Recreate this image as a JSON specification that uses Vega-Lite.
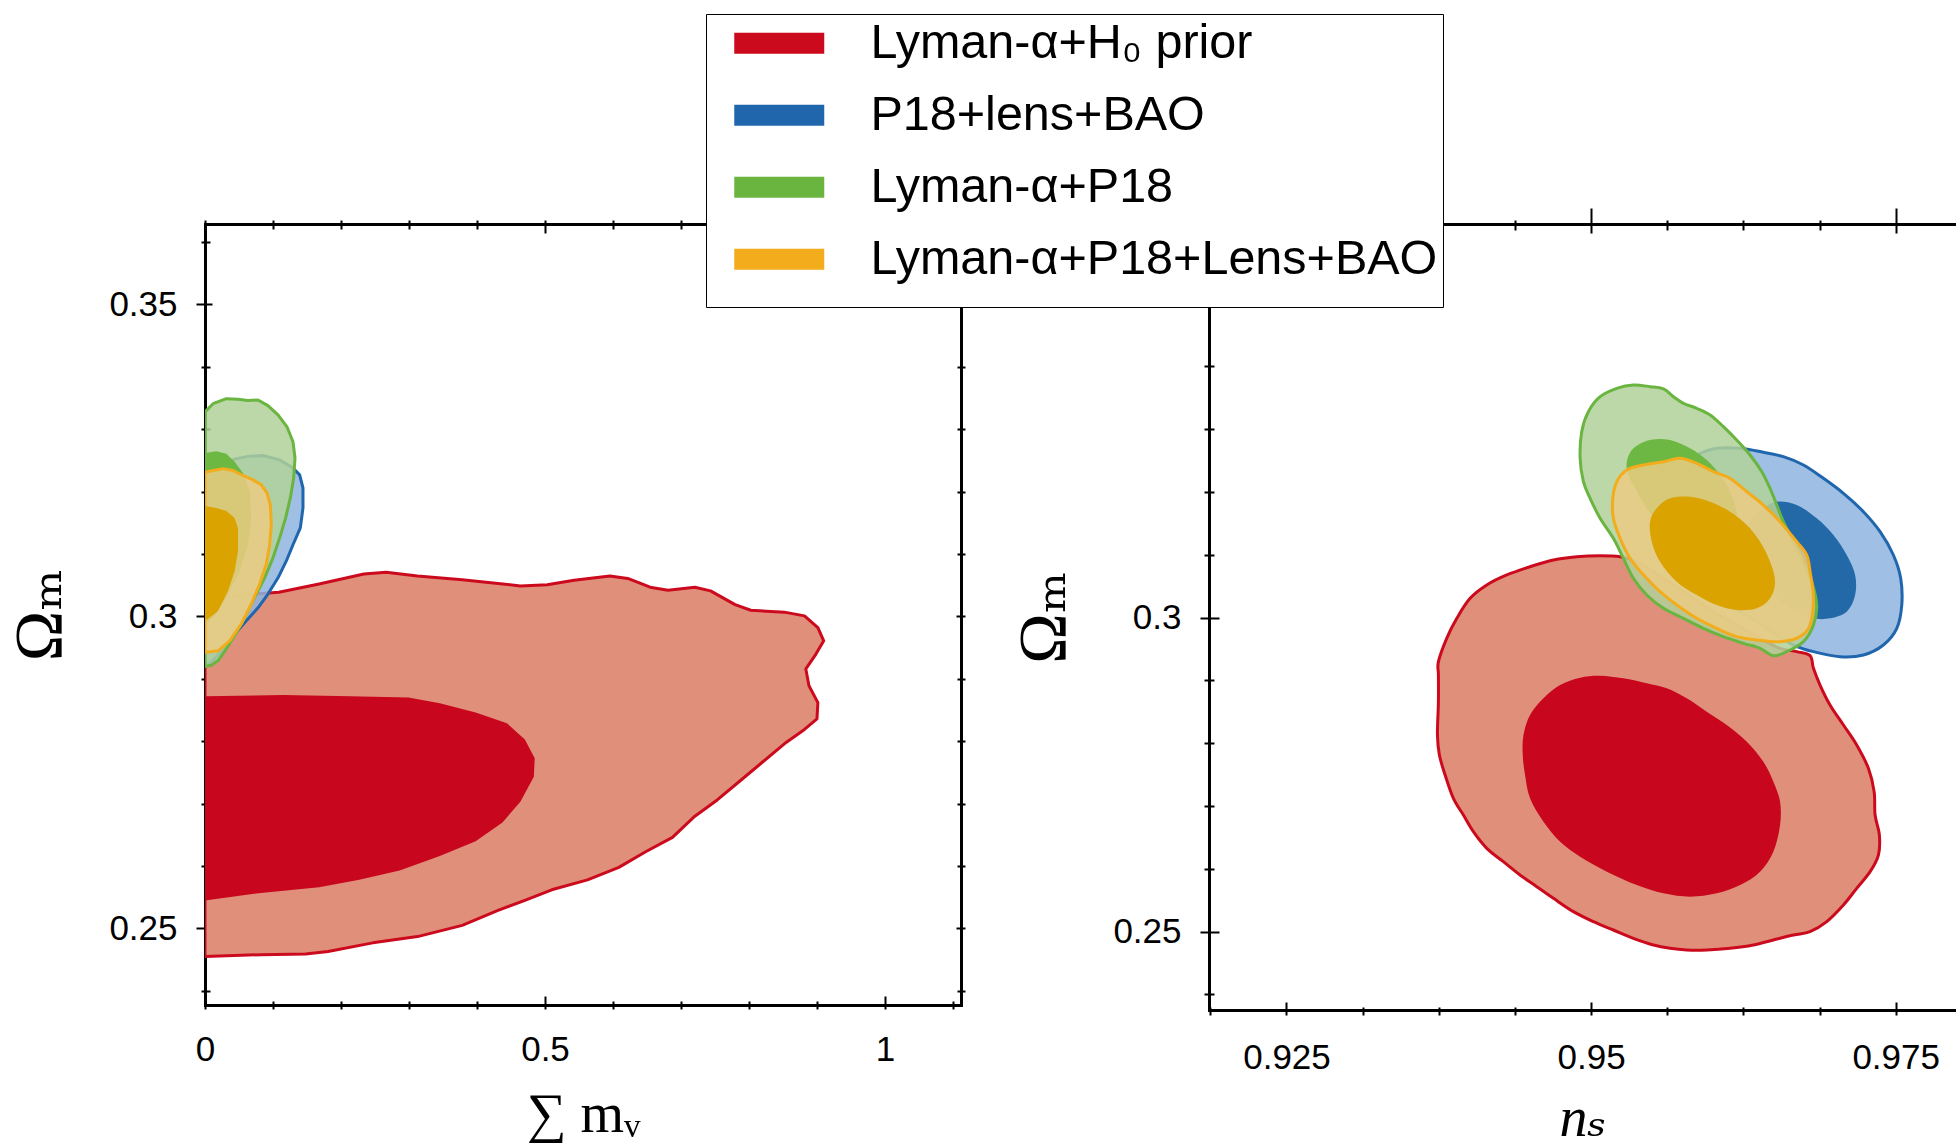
{
  "$schema": "https://vega.github.io/schema/vega-lite/v6.json",
  "background": "white",
  "autosize": {"type": "pad"},
  "padding": {"left": 6, "top": 13, "right": 0, "bottom": 0},
  "bounds": "flush",
  "spacing": 248,
  "config": {
    "view": {"stroke": null},
    "axis": {
      "grid": false, "zindex": 1,
      "domainColor": "black", "domainWidth": 3, "domainCap": "square",
      "tickColor": "black", "tickWidth": 2,
      "labelFont": "Liberation Sans, Arial, sans-serif", "labelFontSize": 35, "labelColor": "black",
      "labelFlush": false, "labelOverlap": false,
      "titleFont": "Liberation Serif, DejaVu Serif, serif", "titleFontSize": 56, "titleFontWeight": "normal", "titleColor": "black"
    },
    "legend": {"labelFont": "Liberation Sans, Arial, sans-serif", "labelColor": "black"}
  },
  "datasets": {
    "mnu": [
      {"set":"Lyman-α+H₀ prior","cl":95,"i":0,"mnu":0,"om":0.3030},
      {"set":"Lyman-α+H₀ prior","cl":95,"i":1,"mnu":0.0493,"om":0.3034},
      {"set":"Lyman-α+H₀ prior","cl":95,"i":2,"mnu":0.1086,"om":0.3039},
      {"set":"Lyman-α+H₀ prior","cl":95,"i":3,"mnu":0.1678,"om":0.3052},
      {"set":"Lyman-α+H₀ prior","cl":95,"i":4,"mnu":0.2336,"om":0.3068},
      {"set":"Lyman-α+H₀ prior","cl":95,"i":5,"mnu":0.2664,"om":0.3071},
      {"set":"Lyman-α+H₀ prior","cl":95,"i":6,"mnu":0.3125,"om":0.3065},
      {"set":"Lyman-α+H₀ prior","cl":95,"i":7,"mnu":0.3783,"om":0.3059},
      {"set":"Lyman-α+H₀ prior","cl":95,"i":8,"mnu":0.4638,"om":0.3049},
      {"set":"Lyman-α+H₀ prior","cl":95,"i":9,"mnu":0.5033,"om":0.3051},
      {"set":"Lyman-α+H₀ prior","cl":95,"i":10,"mnu":0.5428,"om":0.3058},
      {"set":"Lyman-α+H₀ prior","cl":95,"i":11,"mnu":0.5954,"om":0.3065},
      {"set":"Lyman-α+H₀ prior","cl":95,"i":12,"mnu":0.6217,"om":0.3061},
      {"set":"Lyman-α+H₀ prior","cl":95,"i":13,"mnu":0.6546,"om":0.3047},
      {"set":"Lyman-α+H₀ prior","cl":95,"i":14,"mnu":0.6809,"om":0.3042},
      {"set":"Lyman-α+H₀ prior","cl":95,"i":15,"mnu":0.7204,"om":0.3047},
      {"set":"Lyman-α+H₀ prior","cl":95,"i":16,"mnu":0.7434,"om":0.3041},
      {"set":"Lyman-α+H₀ prior","cl":95,"i":17,"mnu":0.7796,"om":0.3019},
      {"set":"Lyman-α+H₀ prior","cl":95,"i":18,"mnu":0.8026,"om":0.3010},
      {"set":"Lyman-α+H₀ prior","cl":95,"i":19,"mnu":0.8520,"om":0.3007},
      {"set":"Lyman-α+H₀ prior","cl":95,"i":20,"mnu":0.8816,"om":0.3001},
      {"set":"Lyman-α+H₀ prior","cl":95,"i":21,"mnu":0.9013,"om":0.2982},
      {"set":"Lyman-α+H₀ prior","cl":95,"i":22,"mnu":0.9099,"om":0.2961},
      {"set":"Lyman-α+H₀ prior","cl":95,"i":23,"mnu":0.8980,"om":0.2939},
      {"set":"Lyman-α+H₀ prior","cl":95,"i":24,"mnu":0.8836,"om":0.2916},
      {"set":"Lyman-α+H₀ prior","cl":95,"i":25,"mnu":0.8882,"om":0.2889},
      {"set":"Lyman-α+H₀ prior","cl":95,"i":26,"mnu":0.9013,"om":0.2862},
      {"set":"Lyman-α+H₀ prior","cl":95,"i":27,"mnu":0.9000,"om":0.2836},
      {"set":"Lyman-α+H₀ prior","cl":95,"i":28,"mnu":0.8816,"om":0.2819},
      {"set":"Lyman-α+H₀ prior","cl":95,"i":29,"mnu":0.8520,"om":0.2796},
      {"set":"Lyman-α+H₀ prior","cl":95,"i":30,"mnu":0.8191,"om":0.2766},
      {"set":"Lyman-α+H₀ prior","cl":95,"i":31,"mnu":0.7862,"om":0.2736},
      {"set":"Lyman-α+H₀ prior","cl":95,"i":32,"mnu":0.7533,"om":0.2706},
      {"set":"Lyman-α+H₀ prior","cl":95,"i":33,"mnu":0.7204,"om":0.2680},
      {"set":"Lyman-α+H₀ prior","cl":95,"i":34,"mnu":0.6875,"om":0.2646},
      {"set":"Lyman-α+H₀ prior","cl":95,"i":35,"mnu":0.6480,"om":0.2623},
      {"set":"Lyman-α+H₀ prior","cl":95,"i":36,"mnu":0.6086,"om":0.2598},
      {"set":"Lyman-α+H₀ prior","cl":95,"i":37,"mnu":0.5625,"om":0.2578},
      {"set":"Lyman-α+H₀ prior","cl":95,"i":38,"mnu":0.5099,"om":0.2562},
      {"set":"Lyman-α+H₀ prior","cl":95,"i":39,"mnu":0.4704,"om":0.2545},
      {"set":"Lyman-α+H₀ prior","cl":95,"i":40,"mnu":0.4309,"om":0.2529},
      {"set":"Lyman-α+H₀ prior","cl":95,"i":41,"mnu":0.3783,"om":0.2505},
      {"set":"Lyman-α+H₀ prior","cl":95,"i":42,"mnu":0.3125,"om":0.2487},
      {"set":"Lyman-α+H₀ prior","cl":95,"i":43,"mnu":0.2467,"om":0.2477},
      {"set":"Lyman-α+H₀ prior","cl":95,"i":44,"mnu":0.1809,"om":0.2463},
      {"set":"Lyman-α+H₀ prior","cl":95,"i":45,"mnu":0.1480,"om":0.2459},
      {"set":"Lyman-α+H₀ prior","cl":95,"i":46,"mnu":0.0822,"om":0.2458},
      {"set":"Lyman-α+H₀ prior","cl":95,"i":47,"mnu":0,"om":0.2455},

      {"set":"Lyman-α+H₀ prior","cl":68,"i":0,"mnu":0,"om":0.2872},
      {"set":"Lyman-α+H₀ prior","cl":68,"i":1,"mnu":0.1151,"om":0.2874},
      {"set":"Lyman-α+H₀ prior","cl":68,"i":2,"mnu":0.2138,"om":0.2872},
      {"set":"Lyman-α+H₀ prior","cl":68,"i":3,"mnu":0.2993,"om":0.2870},
      {"set":"Lyman-α+H₀ prior","cl":68,"i":4,"mnu":0.3454,"om":0.2861},
      {"set":"Lyman-α+H₀ prior","cl":68,"i":5,"mnu":0.3980,"om":0.2846},
      {"set":"Lyman-α+H₀ prior","cl":68,"i":6,"mnu":0.4441,"om":0.2829},
      {"set":"Lyman-α+H₀ prior","cl":68,"i":7,"mnu":0.4704,"om":0.2803},
      {"set":"Lyman-α+H₀ prior","cl":68,"i":8,"mnu":0.4849,"om":0.2773},
      {"set":"Lyman-α+H₀ prior","cl":68,"i":9,"mnu":0.4836,"om":0.2743},
      {"set":"Lyman-α+H₀ prior","cl":68,"i":10,"mnu":0.4638,"om":0.2703},
      {"set":"Lyman-α+H₀ prior","cl":68,"i":11,"mnu":0.4375,"om":0.2670},
      {"set":"Lyman-α+H₀ prior","cl":68,"i":12,"mnu":0.3980,"om":0.2640},
      {"set":"Lyman-α+H₀ prior","cl":68,"i":13,"mnu":0.3454,"om":0.2616},
      {"set":"Lyman-α+H₀ prior","cl":68,"i":14,"mnu":0.2862,"om":0.2593},
      {"set":"Lyman-α+H₀ prior","cl":68,"i":15,"mnu":0.2270,"om":0.2578},
      {"set":"Lyman-α+H₀ prior","cl":68,"i":16,"mnu":0.1678,"om":0.2566},
      {"set":"Lyman-α+H₀ prior","cl":68,"i":17,"mnu":0.0822,"om":0.2557},
      {"set":"Lyman-α+H₀ prior","cl":68,"i":18,"mnu":0,"om":0.2545},

      {"set":"P18+lens+BAO","cl":95,"i":0,"mnu":0,"om":0.3238},
      {"set":"P18+lens+BAO","cl":95,"i":1,"mnu":0.0216,"om":0.3243},
      {"set":"P18+lens+BAO","cl":95,"i":2,"mnu":0.0461,"om":0.3253},
      {"set":"P18+lens+BAO","cl":95,"i":3,"mnu":0.0657,"om":0.3257},
      {"set":"P18+lens+BAO","cl":95,"i":4,"mnu":0.0853,"om":0.3258},
      {"set":"P18+lens+BAO","cl":95,"i":5,"mnu":0.1098,"om":0.3251},
      {"set":"P18+lens+BAO","cl":95,"i":6,"mnu":0.1294,"om":0.3238},
      {"set":"P18+lens+BAO","cl":95,"i":7,"mnu":0.1392,"om":0.3227},
      {"set":"P18+lens+BAO","cl":95,"i":8,"mnu":0.1441,"om":0.3206},
      {"set":"P18+lens+BAO","cl":95,"i":9,"mnu":0.1441,"om":0.3174},
      {"set":"P18+lens+BAO","cl":95,"i":10,"mnu":0.1402,"om":0.3142},
      {"set":"P18+lens+BAO","cl":95,"i":11,"mnu":0.1294,"om":0.3115},
      {"set":"P18+lens+BAO","cl":95,"i":12,"mnu":0.1196,"om":0.3089},
      {"set":"P18+lens+BAO","cl":95,"i":13,"mnu":0.1074,"om":0.3062},
      {"set":"P18+lens+BAO","cl":95,"i":14,"mnu":0.0926,"om":0.3036},
      {"set":"P18+lens+BAO","cl":95,"i":15,"mnu":0.0779,"om":0.3014},
      {"set":"P18+lens+BAO","cl":95,"i":16,"mnu":0.0608,"om":0.2993},
      {"set":"P18+lens+BAO","cl":95,"i":17,"mnu":0.0436,"om":0.2972},
      {"set":"P18+lens+BAO","cl":95,"i":18,"mnu":0.0289,"om":0.2951},
      {"set":"P18+lens+BAO","cl":95,"i":19,"mnu":0.0167,"om":0.2935},
      {"set":"P18+lens+BAO","cl":95,"i":20,"mnu":0.0069,"om":0.2925},
      {"set":"P18+lens+BAO","cl":95,"i":21,"mnu":0,"om":0.2921},

      {"set":"Lyman-α+P18","cl":95,"i":0,"mnu":0,"om":0.3328},
      {"set":"Lyman-α+P18","cl":95,"i":1,"mnu":0.0118,"om":0.3341},
      {"set":"Lyman-α+P18","cl":95,"i":2,"mnu":0.0314,"om":0.3349},
      {"set":"Lyman-α+P18","cl":95,"i":3,"mnu":0.0485,"om":0.3348},
      {"set":"Lyman-α+P18","cl":95,"i":4,"mnu":0.0632,"om":0.3346},
      {"set":"Lyman-α+P18","cl":95,"i":5,"mnu":0.0779,"om":0.3347},
      {"set":"Lyman-α+P18","cl":95,"i":6,"mnu":0.0926,"om":0.3338},
      {"set":"Lyman-α+P18","cl":95,"i":7,"mnu":0.1074,"om":0.3323},
      {"set":"Lyman-α+P18","cl":95,"i":8,"mnu":0.1206,"om":0.3304},
      {"set":"Lyman-α+P18","cl":95,"i":9,"mnu":0.1294,"om":0.3280},
      {"set":"Lyman-α+P18","cl":95,"i":10,"mnu":0.1324,"om":0.3254},
      {"set":"Lyman-α+P18","cl":95,"i":11,"mnu":0.1304,"om":0.3222},
      {"set":"Lyman-α+P18","cl":95,"i":12,"mnu":0.1255,"om":0.3190},
      {"set":"Lyman-α+P18","cl":95,"i":13,"mnu":0.1186,"om":0.3158},
      {"set":"Lyman-α+P18","cl":95,"i":14,"mnu":0.1098,"om":0.3126},
      {"set":"Lyman-α+P18","cl":95,"i":15,"mnu":0.1000,"om":0.3094},
      {"set":"Lyman-α+P18","cl":95,"i":16,"mnu":0.0877,"om":0.3062},
      {"set":"Lyman-α+P18","cl":95,"i":17,"mnu":0.0755,"om":0.3036},
      {"set":"Lyman-α+P18","cl":95,"i":18,"mnu":0.0608,"om":0.3004},
      {"set":"Lyman-α+P18","cl":95,"i":19,"mnu":0.0461,"om":0.2974},
      {"set":"Lyman-α+P18","cl":95,"i":20,"mnu":0.0314,"om":0.2948},
      {"set":"Lyman-α+P18","cl":95,"i":21,"mnu":0.0191,"om":0.2929},
      {"set":"Lyman-α+P18","cl":95,"i":22,"mnu":0.0093,"om":0.2922},
      {"set":"Lyman-α+P18","cl":95,"i":23,"mnu":0,"om":0.2920},

      {"set":"Lyman-α+P18","cl":68,"i":0,"mnu":0,"om":0.3262},
      {"set":"Lyman-α+P18","cl":68,"i":1,"mnu":0.0167,"om":0.3265},
      {"set":"Lyman-α+P18","cl":68,"i":2,"mnu":0.0314,"om":0.3261},
      {"set":"Lyman-α+P18","cl":68,"i":3,"mnu":0.0436,"om":0.3248},
      {"set":"Lyman-α+P18","cl":68,"i":4,"mnu":0.0559,"om":0.3230},
      {"set":"Lyman-α+P18","cl":68,"i":5,"mnu":0.0657,"om":0.3201},
      {"set":"Lyman-α+P18","cl":68,"i":6,"mnu":0.0681,"om":0.3158},
      {"set":"Lyman-α+P18","cl":68,"i":7,"mnu":0.0632,"om":0.3115},
      {"set":"Lyman-α+P18","cl":68,"i":8,"mnu":0.0510,"om":0.3073},
      {"set":"Lyman-α+P18","cl":68,"i":9,"mnu":0.0314,"om":0.3030},
      {"set":"Lyman-α+P18","cl":68,"i":10,"mnu":0.0118,"om":0.2998},
      {"set":"Lyman-α+P18","cl":68,"i":11,"mnu":0,"om":0.2988},

      {"set":"Lyman-α+P18+Lens+BAO","cl":95,"i":0,"mnu":0,"om":0.3231},
      {"set":"Lyman-α+P18+Lens+BAO","cl":95,"i":1,"mnu":0.0118,"om":0.3234},
      {"set":"Lyman-α+P18+Lens+BAO","cl":95,"i":2,"mnu":0.0265,"om":0.3237},
      {"set":"Lyman-α+P18+Lens+BAO","cl":95,"i":3,"mnu":0.0412,"om":0.3234},
      {"set":"Lyman-α+P18+Lens+BAO","cl":95,"i":4,"mnu":0.0559,"om":0.3226},
      {"set":"Lyman-α+P18+Lens+BAO","cl":95,"i":5,"mnu":0.0706,"om":0.3219},
      {"set":"Lyman-α+P18+Lens+BAO","cl":95,"i":6,"mnu":0.0828,"om":0.3211},
      {"set":"Lyman-α+P18+Lens+BAO","cl":95,"i":7,"mnu":0.0912,"om":0.3198},
      {"set":"Lyman-α+P18+Lens+BAO","cl":95,"i":8,"mnu":0.0961,"om":0.3179},
      {"set":"Lyman-α+P18+Lens+BAO","cl":95,"i":9,"mnu":0.0975,"om":0.3147},
      {"set":"Lyman-α+P18+Lens+BAO","cl":95,"i":10,"mnu":0.0951,"om":0.3115},
      {"set":"Lyman-α+P18+Lens+BAO","cl":95,"i":11,"mnu":0.0902,"om":0.3084},
      {"set":"Lyman-α+P18+Lens+BAO","cl":95,"i":12,"mnu":0.0804,"om":0.3052},
      {"set":"Lyman-α+P18+Lens+BAO","cl":95,"i":13,"mnu":0.0681,"om":0.3020},
      {"set":"Lyman-α+P18+Lens+BAO","cl":95,"i":14,"mnu":0.0534,"om":0.2988},
      {"set":"Lyman-α+P18+Lens+BAO","cl":95,"i":15,"mnu":0.0363,"om":0.2961},
      {"set":"Lyman-α+P18+Lens+BAO","cl":95,"i":16,"mnu":0.0191,"om":0.2945},
      {"set":"Lyman-α+P18+Lens+BAO","cl":95,"i":17,"mnu":0.0044,"om":0.2943},
      {"set":"Lyman-α+P18+Lens+BAO","cl":95,"i":18,"mnu":0,"om":0.2942},

      {"set":"Lyman-α+P18+Lens+BAO","cl":68,"i":0,"mnu":0,"om":0.3177},
      {"set":"Lyman-α+P18+Lens+BAO","cl":68,"i":1,"mnu":0.0167,"om":0.3174},
      {"set":"Lyman-α+P18+Lens+BAO","cl":68,"i":2,"mnu":0.0314,"om":0.3169},
      {"set":"Lyman-α+P18+Lens+BAO","cl":68,"i":3,"mnu":0.0436,"om":0.3158},
      {"set":"Lyman-α+P18+Lens+BAO","cl":68,"i":4,"mnu":0.0485,"om":0.3142},
      {"set":"Lyman-α+P18+Lens+BAO","cl":68,"i":5,"mnu":0.0485,"om":0.3105},
      {"set":"Lyman-α+P18+Lens+BAO","cl":68,"i":6,"mnu":0.0436,"om":0.3073},
      {"set":"Lyman-α+P18+Lens+BAO","cl":68,"i":7,"mnu":0.0338,"om":0.3041},
      {"set":"Lyman-α+P18+Lens+BAO","cl":68,"i":8,"mnu":0.0191,"om":0.3009},
      {"set":"Lyman-α+P18+Lens+BAO","cl":68,"i":9,"mnu":0.0044,"om":0.2996},
      {"set":"Lyman-α+P18+Lens+BAO","cl":68,"i":10,"mnu":0,"om":0.2994}
    ],
    "ns": [
      {"set":"Lyman-α+H₀ prior","cl":95,"i":0,"ns":0.93747,"om":0.29297},
      {"set":"Lyman-α+H₀ prior","cl":95,"i":1,"ns":0.93815,"om":0.29668},
      {"set":"Lyman-α+H₀ prior","cl":95,"i":2,"ns":0.93898,"om":0.29987},
      {"set":"Lyman-α+H₀ prior","cl":95,"i":3,"ns":0.94007,"om":0.30305},
      {"set":"Lyman-α+H₀ prior","cl":95,"i":4,"ns":0.94144,"om":0.30518},
      {"set":"Lyman-α+H₀ prior","cl":95,"i":5,"ns":0.94308,"om":0.30677},
      {"set":"Lyman-α+H₀ prior","cl":95,"i":6,"ns":0.94499,"om":0.30809},
      {"set":"Lyman-α+H₀ prior","cl":95,"i":7,"ns":0.94691,"om":0.30916},
      {"set":"Lyman-α+H₀ prior","cl":95,"i":8,"ns":0.94882,"om":0.30969},
      {"set":"Lyman-α+H₀ prior","cl":95,"i":9,"ns":0.95074,"om":0.30985},
      {"set":"Lyman-α+H₀ prior","cl":95,"i":10,"ns":0.95238,"om":0.30969},
      {"set":"Lyman-α+H₀ prior","cl":95,"i":11,"ns":0.95375,"om":0.30889},
      {"set":"Lyman-α+H₀ prior","cl":95,"i":12,"ns":0.95512,"om":0.30730},
      {"set":"Lyman-α+H₀ prior","cl":95,"i":13,"ns":0.95676,"om":0.30518},
      {"set":"Lyman-α+H₀ prior","cl":95,"i":14,"ns":0.95840,"om":0.30305},
      {"set":"Lyman-α+H₀ prior","cl":95,"i":15,"ns":0.96004,"om":0.30093},
      {"set":"Lyman-α+H₀ prior","cl":95,"i":16,"ns":0.96195,"om":0.29881},
      {"set":"Lyman-α+H₀ prior","cl":95,"i":17,"ns":0.96387,"om":0.29668},
      {"set":"Lyman-α+H₀ prior","cl":95,"i":18,"ns":0.96551,"om":0.29509},
      {"set":"Lyman-α+H₀ prior","cl":95,"i":19,"ns":0.96688,"om":0.29456},
      {"set":"Lyman-α+H₀ prior","cl":95,"i":20,"ns":0.96797,"om":0.29392},
      {"set":"Lyman-α+H₀ prior","cl":95,"i":21,"ns":0.96825,"om":0.29191},
      {"set":"Lyman-α+H₀ prior","cl":95,"i":22,"ns":0.96879,"om":0.28925},
      {"set":"Lyman-α+H₀ prior","cl":95,"i":23,"ns":0.96961,"om":0.28607},
      {"set":"Lyman-α+H₀ prior","cl":95,"i":24,"ns":0.97071,"om":0.28288},
      {"set":"Lyman-α+H₀ prior","cl":95,"i":25,"ns":0.97180,"om":0.27970},
      {"set":"Lyman-α+H₀ prior","cl":95,"i":26,"ns":0.97276,"om":0.27598},
      {"set":"Lyman-α+H₀ prior","cl":95,"i":27,"ns":0.97323,"om":0.27227},
      {"set":"Lyman-α+H₀ prior","cl":95,"i":28,"ns":0.97331,"om":0.26855},
      {"set":"Lyman-α+H₀ prior","cl":95,"i":29,"ns":0.97366,"om":0.26537},
      {"set":"Lyman-α+H₀ prior","cl":95,"i":30,"ns":0.97358,"om":0.26218},
      {"set":"Lyman-α+H₀ prior","cl":95,"i":31,"ns":0.97290,"om":0.25953},
      {"set":"Lyman-α+H₀ prior","cl":95,"i":32,"ns":0.97180,"om":0.25687},
      {"set":"Lyman-α+H₀ prior","cl":95,"i":33,"ns":0.97071,"om":0.25422},
      {"set":"Lyman-α+H₀ prior","cl":95,"i":34,"ns":0.96934,"om":0.25157},
      {"set":"Lyman-α+H₀ prior","cl":95,"i":35,"ns":0.96797,"om":0.24997},
      {"set":"Lyman-α+H₀ prior","cl":95,"i":36,"ns":0.96661,"om":0.24944},
      {"set":"Lyman-α+H₀ prior","cl":95,"i":37,"ns":0.96496,"om":0.24865},
      {"set":"Lyman-α+H₀ prior","cl":95,"i":38,"ns":0.96332,"om":0.24785},
      {"set":"Lyman-α+H₀ prior","cl":95,"i":39,"ns":0.96141,"om":0.24732},
      {"set":"Lyman-α+H₀ prior","cl":95,"i":40,"ns":0.95949,"om":0.24705},
      {"set":"Lyman-α+H₀ prior","cl":95,"i":41,"ns":0.95785,"om":0.24705},
      {"set":"Lyman-α+H₀ prior","cl":95,"i":42,"ns":0.95648,"om":0.24732},
      {"set":"Lyman-α+H₀ prior","cl":95,"i":43,"ns":0.95512,"om":0.24785},
      {"set":"Lyman-α+H₀ prior","cl":95,"i":44,"ns":0.95347,"om":0.24891},
      {"set":"Lyman-α+H₀ prior","cl":95,"i":45,"ns":0.95183,"om":0.25024},
      {"set":"Lyman-α+H₀ prior","cl":95,"i":46,"ns":0.95019,"om":0.25157},
      {"set":"Lyman-α+H₀ prior","cl":95,"i":47,"ns":0.94855,"om":0.25316},
      {"set":"Lyman-α+H₀ prior","cl":95,"i":48,"ns":0.94691,"om":0.25528},
      {"set":"Lyman-α+H₀ prior","cl":95,"i":49,"ns":0.94554,"om":0.25714},
      {"set":"Lyman-α+H₀ prior","cl":95,"i":50,"ns":0.94417,"om":0.25900},
      {"set":"Lyman-α+H₀ prior","cl":95,"i":51,"ns":0.94280,"om":0.26112},
      {"set":"Lyman-α+H₀ prior","cl":95,"i":52,"ns":0.94144,"om":0.26324},
      {"set":"Lyman-α+H₀ prior","cl":95,"i":53,"ns":0.94034,"om":0.26590},
      {"set":"Lyman-α+H₀ prior","cl":95,"i":54,"ns":0.93952,"om":0.26855},
      {"set":"Lyman-α+H₀ prior","cl":95,"i":55,"ns":0.93870,"om":0.27121},
      {"set":"Lyman-α+H₀ prior","cl":95,"i":56,"ns":0.93802,"om":0.27492},
      {"set":"Lyman-α+H₀ prior","cl":95,"i":57,"ns":0.93755,"om":0.27810},
      {"set":"Lyman-α+H₀ prior","cl":95,"i":58,"ns":0.93739,"om":0.28129},
      {"set":"Lyman-α+H₀ prior","cl":95,"i":59,"ns":0.93747,"om":0.28660},
      {"set":"Lyman-α+H₀ prior","cl":95,"i":60,"ns":0.93747,"om":0.29084},

      {"set":"Lyman-α+H₀ prior","cl":68,"i":0,"ns":0.94445,"om":0.28129},
      {"set":"Lyman-α+H₀ prior","cl":68,"i":1,"ns":0.94499,"om":0.28447},
      {"set":"Lyman-α+H₀ prior","cl":68,"i":2,"ns":0.94609,"om":0.28713},
      {"set":"Lyman-α+H₀ prior","cl":68,"i":3,"ns":0.94746,"om":0.28925},
      {"set":"Lyman-α+H₀ prior","cl":68,"i":4,"ns":0.94910,"om":0.29042},
      {"set":"Lyman-α+H₀ prior","cl":68,"i":5,"ns":0.95074,"om":0.29074},
      {"set":"Lyman-α+H₀ prior","cl":68,"i":6,"ns":0.95265,"om":0.29031},
      {"set":"Lyman-α+H₀ prior","cl":68,"i":7,"ns":0.95457,"om":0.28952},
      {"set":"Lyman-α+H₀ prior","cl":68,"i":8,"ns":0.95621,"om":0.28872},
      {"set":"Lyman-α+H₀ prior","cl":68,"i":9,"ns":0.95785,"om":0.28713},
      {"set":"Lyman-α+H₀ prior","cl":68,"i":10,"ns":0.95949,"om":0.28501},
      {"set":"Lyman-α+H₀ prior","cl":68,"i":11,"ns":0.96113,"om":0.28288},
      {"set":"Lyman-α+H₀ prior","cl":68,"i":12,"ns":0.96278,"om":0.28023},
      {"set":"Lyman-α+H₀ prior","cl":68,"i":13,"ns":0.96414,"om":0.27704},
      {"set":"Lyman-α+H₀ prior","cl":68,"i":14,"ns":0.96496,"om":0.27386},
      {"set":"Lyman-α+H₀ prior","cl":68,"i":15,"ns":0.96551,"om":0.27067},
      {"set":"Lyman-α+H₀ prior","cl":68,"i":16,"ns":0.96551,"om":0.26696},
      {"set":"Lyman-α+H₀ prior","cl":68,"i":17,"ns":0.96496,"om":0.26271},
      {"set":"Lyman-α+H₀ prior","cl":68,"i":18,"ns":0.96387,"om":0.25953},
      {"set":"Lyman-α+H₀ prior","cl":68,"i":19,"ns":0.96223,"om":0.25740},
      {"set":"Lyman-α+H₀ prior","cl":68,"i":20,"ns":0.96031,"om":0.25608},
      {"set":"Lyman-α+H₀ prior","cl":68,"i":21,"ns":0.95812,"om":0.25555},
      {"set":"Lyman-α+H₀ prior","cl":68,"i":22,"ns":0.95594,"om":0.25608},
      {"set":"Lyman-α+H₀ prior","cl":68,"i":23,"ns":0.95375,"om":0.25740},
      {"set":"Lyman-α+H₀ prior","cl":68,"i":24,"ns":0.95129,"om":0.25953},
      {"set":"Lyman-α+H₀ prior","cl":68,"i":25,"ns":0.94910,"om":0.26192},
      {"set":"Lyman-α+H₀ prior","cl":68,"i":26,"ns":0.94746,"om":0.26430},
      {"set":"Lyman-α+H₀ prior","cl":68,"i":27,"ns":0.94609,"om":0.26749},
      {"set":"Lyman-α+H₀ prior","cl":68,"i":28,"ns":0.94499,"om":0.27121},
      {"set":"Lyman-α+H₀ prior","cl":68,"i":29,"ns":0.94458,"om":0.27492},
      {"set":"Lyman-α+H₀ prior","cl":68,"i":30,"ns":0.94439,"om":0.27810},

      {"set":"P18+lens+BAO","cl":95,"i":0,"ns":0.95703,"om":0.32269},
      {"set":"P18+lens+BAO","cl":95,"i":1,"ns":0.95758,"om":0.32428},
      {"set":"P18+lens+BAO","cl":95,"i":2,"ns":0.95867,"om":0.32588},
      {"set":"P18+lens+BAO","cl":95,"i":3,"ns":0.96031,"om":0.32694},
      {"set":"P18+lens+BAO","cl":95,"i":4,"ns":0.96223,"om":0.32694},
      {"set":"P18+lens+BAO","cl":95,"i":5,"ns":0.96414,"om":0.32630},
      {"set":"P18+lens+BAO","cl":95,"i":6,"ns":0.96578,"om":0.32561},
      {"set":"P18+lens+BAO","cl":95,"i":7,"ns":0.96743,"om":0.32428},
      {"set":"P18+lens+BAO","cl":95,"i":8,"ns":0.96907,"om":0.32216},
      {"set":"P18+lens+BAO","cl":95,"i":9,"ns":0.97071,"om":0.31977},
      {"set":"P18+lens+BAO","cl":95,"i":10,"ns":0.97235,"om":0.31685},
      {"set":"P18+lens+BAO","cl":95,"i":11,"ns":0.97372,"om":0.31367},
      {"set":"P18+lens+BAO","cl":95,"i":12,"ns":0.97481,"om":0.30995},
      {"set":"P18+lens+BAO","cl":95,"i":13,"ns":0.97541,"om":0.30624},
      {"set":"P18+lens+BAO","cl":95,"i":14,"ns":0.97550,"om":0.30199},
      {"set":"P18+lens+BAO","cl":95,"i":15,"ns":0.97509,"om":0.29827},
      {"set":"P18+lens+BAO","cl":95,"i":16,"ns":0.97399,"om":0.29562},
      {"set":"P18+lens+BAO","cl":95,"i":17,"ns":0.97235,"om":0.29403},
      {"set":"P18+lens+BAO","cl":95,"i":18,"ns":0.97044,"om":0.29376},
      {"set":"P18+lens+BAO","cl":95,"i":19,"ns":0.96825,"om":0.29456},
      {"set":"P18+lens+BAO","cl":95,"i":20,"ns":0.96661,"om":0.29562},
      {"set":"P18+lens+BAO","cl":95,"i":21,"ns":0.96524,"om":0.29721},
      {"set":"P18+lens+BAO","cl":95,"i":22,"ns":0.96360,"om":0.29934},
      {"set":"P18+lens+BAO","cl":95,"i":23,"ns":0.96141,"om":0.30199},
      {"set":"P18+lens+BAO","cl":95,"i":24,"ns":0.95949,"om":0.30571},
      {"set":"P18+lens+BAO","cl":95,"i":25,"ns":0.95812,"om":0.31048},
      {"set":"P18+lens+BAO","cl":95,"i":26,"ns":0.95703,"om":0.31526},
      {"set":"P18+lens+BAO","cl":95,"i":27,"ns":0.95676,"om":0.32004},

      {"set":"P18+lens+BAO","cl":68,"i":0,"ns":0.96414,"om":0.31738},
      {"set":"P18+lens+BAO","cl":68,"i":1,"ns":0.96524,"om":0.31844},
      {"set":"P18+lens+BAO","cl":68,"i":2,"ns":0.96688,"om":0.31791},
      {"set":"P18+lens+BAO","cl":68,"i":3,"ns":0.96852,"om":0.31579},
      {"set":"P18+lens+BAO","cl":68,"i":4,"ns":0.96989,"om":0.31314},
      {"set":"P18+lens+BAO","cl":68,"i":5,"ns":0.97098,"om":0.30995},
      {"set":"P18+lens+BAO","cl":68,"i":6,"ns":0.97167,"om":0.30677},
      {"set":"P18+lens+BAO","cl":68,"i":7,"ns":0.97167,"om":0.30358},
      {"set":"P18+lens+BAO","cl":68,"i":8,"ns":0.97098,"om":0.30093},
      {"set":"P18+lens+BAO","cl":68,"i":9,"ns":0.96961,"om":0.29987},
      {"set":"P18+lens+BAO","cl":68,"i":10,"ns":0.96825,"om":0.29987},
      {"set":"P18+lens+BAO","cl":68,"i":11,"ns":0.96688,"om":0.30093},
      {"set":"P18+lens+BAO","cl":68,"i":12,"ns":0.96496,"om":0.30358},
      {"set":"P18+lens+BAO","cl":68,"i":13,"ns":0.96360,"om":0.30730},
      {"set":"P18+lens+BAO","cl":68,"i":14,"ns":0.96278,"om":0.31154},
      {"set":"P18+lens+BAO","cl":68,"i":15,"ns":0.96305,"om":0.31526},

      {"set":"Lyman-α+P18","cl":95,"i":0,"ns":0.94910,"om":0.32535},
      {"set":"Lyman-α+P18","cl":95,"i":1,"ns":0.94923,"om":0.32959},
      {"set":"Lyman-α+P18","cl":95,"i":2,"ns":0.94978,"om":0.33278},
      {"set":"Lyman-α+P18","cl":95,"i":3,"ns":0.95074,"om":0.33516},
      {"set":"Lyman-α+P18","cl":95,"i":4,"ns":0.95211,"om":0.33649},
      {"set":"Lyman-α+P18","cl":95,"i":5,"ns":0.95347,"om":0.33702},
      {"set":"Lyman-α+P18","cl":95,"i":6,"ns":0.95484,"om":0.33676},
      {"set":"Lyman-α+P18","cl":95,"i":7,"ns":0.95594,"om":0.33639},
      {"set":"Lyman-α+P18","cl":95,"i":8,"ns":0.95676,"om":0.33516},
      {"set":"Lyman-α+P18","cl":95,"i":9,"ns":0.95758,"om":0.33410},
      {"set":"Lyman-α+P18","cl":95,"i":10,"ns":0.95867,"om":0.33331},
      {"set":"Lyman-α+P18","cl":95,"i":11,"ns":0.95977,"om":0.33225},
      {"set":"Lyman-α+P18","cl":95,"i":12,"ns":0.96086,"om":0.33039},
      {"set":"Lyman-α+P18","cl":95,"i":13,"ns":0.96195,"om":0.32826},
      {"set":"Lyman-α+P18","cl":95,"i":14,"ns":0.96305,"om":0.32588},
      {"set":"Lyman-α+P18","cl":95,"i":15,"ns":0.96401,"om":0.32322},
      {"set":"Lyman-α+P18","cl":95,"i":16,"ns":0.96469,"om":0.32057},
      {"set":"Lyman-α+P18","cl":95,"i":17,"ns":0.96524,"om":0.31791},
      {"set":"Lyman-α+P18","cl":95,"i":18,"ns":0.96578,"om":0.31526},
      {"set":"Lyman-α+P18","cl":95,"i":19,"ns":0.96661,"om":0.31208},
      {"set":"Lyman-α+P18","cl":95,"i":20,"ns":0.96743,"om":0.30889},
      {"set":"Lyman-α+P18","cl":95,"i":21,"ns":0.96811,"om":0.30571},
      {"set":"Lyman-α+P18","cl":95,"i":22,"ns":0.96852,"om":0.30199},
      {"set":"Lyman-α+P18","cl":95,"i":23,"ns":0.96825,"om":0.29881},
      {"set":"Lyman-α+P18","cl":95,"i":24,"ns":0.96743,"om":0.29615},
      {"set":"Lyman-α+P18","cl":95,"i":25,"ns":0.96606,"om":0.29456},
      {"set":"Lyman-α+P18","cl":95,"i":26,"ns":0.96496,"om":0.29392},
      {"set":"Lyman-α+P18","cl":95,"i":27,"ns":0.96387,"om":0.29509},
      {"set":"Lyman-α+P18","cl":95,"i":28,"ns":0.96250,"om":0.29589},
      {"set":"Lyman-α+P18","cl":95,"i":29,"ns":0.96086,"om":0.29695},
      {"set":"Lyman-α+P18","cl":95,"i":30,"ns":0.95922,"om":0.29827},
      {"set":"Lyman-α+P18","cl":95,"i":31,"ns":0.95758,"om":0.29987},
      {"set":"Lyman-α+P18","cl":95,"i":32,"ns":0.95594,"om":0.30146},
      {"set":"Lyman-α+P18","cl":95,"i":33,"ns":0.95457,"om":0.30358},
      {"set":"Lyman-α+P18","cl":95,"i":34,"ns":0.95347,"om":0.30624},
      {"set":"Lyman-α+P18","cl":95,"i":35,"ns":0.95265,"om":0.30942},
      {"set":"Lyman-α+P18","cl":95,"i":36,"ns":0.95183,"om":0.31261},
      {"set":"Lyman-α+P18","cl":95,"i":37,"ns":0.95074,"om":0.31579},
      {"set":"Lyman-α+P18","cl":95,"i":38,"ns":0.94992,"om":0.31898},
      {"set":"Lyman-α+P18","cl":95,"i":39,"ns":0.94937,"om":0.32163},

      {"set":"Lyman-α+P18","cl":68,"i":0,"ns":0.95293,"om":0.32481},
      {"set":"Lyman-α+P18","cl":68,"i":1,"ns":0.95347,"om":0.32694},
      {"set":"Lyman-α+P18","cl":68,"i":2,"ns":0.95484,"om":0.32826},
      {"set":"Lyman-α+P18","cl":68,"i":3,"ns":0.95648,"om":0.32826},
      {"set":"Lyman-α+P18","cl":68,"i":4,"ns":0.95812,"om":0.32694},
      {"set":"Lyman-α+P18","cl":68,"i":5,"ns":0.95949,"om":0.32508},
      {"set":"Lyman-α+P18","cl":68,"i":6,"ns":0.96059,"om":0.32269},
      {"set":"Lyman-α+P18","cl":68,"i":7,"ns":0.96141,"om":0.32004},
      {"set":"Lyman-α+P18","cl":68,"i":8,"ns":0.96195,"om":0.31685},
      {"set":"Lyman-α+P18","cl":68,"i":9,"ns":0.96195,"om":0.31367},
      {"set":"Lyman-α+P18","cl":68,"i":10,"ns":0.96141,"om":0.31154},
      {"set":"Lyman-α+P18","cl":68,"i":11,"ns":0.96031,"om":0.31048},
      {"set":"Lyman-α+P18","cl":68,"i":12,"ns":0.95867,"om":0.31048},
      {"set":"Lyman-α+P18","cl":68,"i":13,"ns":0.95703,"om":0.31208},
      {"set":"Lyman-α+P18","cl":68,"i":14,"ns":0.95566,"om":0.31473},
      {"set":"Lyman-α+P18","cl":68,"i":15,"ns":0.95457,"om":0.31738},
      {"set":"Lyman-α+P18","cl":68,"i":16,"ns":0.95361,"om":0.32057},
      {"set":"Lyman-α+P18","cl":68,"i":17,"ns":0.95306,"om":0.32269},

      {"set":"Lyman-α+P18+Lens+BAO","cl":95,"i":0,"ns":0.95178,"om":0.31898},
      {"set":"Lyman-α+P18+Lens+BAO","cl":95,"i":1,"ns":0.95211,"om":0.32163},
      {"set":"Lyman-α+P18+Lens+BAO","cl":95,"i":2,"ns":0.95293,"om":0.32349},
      {"set":"Lyman-α+P18+Lens+BAO","cl":95,"i":3,"ns":0.95430,"om":0.32428},
      {"set":"Lyman-α+P18+Lens+BAO","cl":95,"i":4,"ns":0.95594,"om":0.32481},
      {"set":"Lyman-α+P18+Lens+BAO","cl":95,"i":5,"ns":0.95730,"om":0.32535},
      {"set":"Lyman-α+P18+Lens+BAO","cl":95,"i":6,"ns":0.95867,"om":0.32455},
      {"set":"Lyman-α+P18+Lens+BAO","cl":95,"i":7,"ns":0.96004,"om":0.32322},
      {"set":"Lyman-α+P18+Lens+BAO","cl":95,"i":8,"ns":0.96141,"om":0.32216},
      {"set":"Lyman-α+P18+Lens+BAO","cl":95,"i":9,"ns":0.96278,"om":0.32004},
      {"set":"Lyman-α+P18+Lens+BAO","cl":95,"i":10,"ns":0.96414,"om":0.31791},
      {"set":"Lyman-α+P18+Lens+BAO","cl":95,"i":11,"ns":0.96551,"om":0.31526},
      {"set":"Lyman-α+P18+Lens+BAO","cl":95,"i":12,"ns":0.96688,"om":0.31208},
      {"set":"Lyman-α+P18+Lens+BAO","cl":95,"i":13,"ns":0.96770,"om":0.30995},
      {"set":"Lyman-α+P18+Lens+BAO","cl":95,"i":14,"ns":0.96797,"om":0.30730},
      {"set":"Lyman-α+P18+Lens+BAO","cl":95,"i":15,"ns":0.96825,"om":0.30305},
      {"set":"Lyman-α+P18+Lens+BAO","cl":95,"i":16,"ns":0.96797,"om":0.29881},
      {"set":"Lyman-α+P18+Lens+BAO","cl":95,"i":17,"ns":0.96715,"om":0.29695},
      {"set":"Lyman-α+P18+Lens+BAO","cl":95,"i":18,"ns":0.96551,"om":0.29615},
      {"set":"Lyman-α+P18+Lens+BAO","cl":95,"i":19,"ns":0.96360,"om":0.29642},
      {"set":"Lyman-α+P18+Lens+BAO","cl":95,"i":20,"ns":0.96195,"om":0.29695},
      {"set":"Lyman-α+P18+Lens+BAO","cl":95,"i":21,"ns":0.96031,"om":0.29827},
      {"set":"Lyman-α+P18+Lens+BAO","cl":95,"i":22,"ns":0.95867,"om":0.29987},
      {"set":"Lyman-α+P18+Lens+BAO","cl":95,"i":23,"ns":0.95703,"om":0.30199},
      {"set":"Lyman-α+P18+Lens+BAO","cl":95,"i":24,"ns":0.95566,"om":0.30411},
      {"set":"Lyman-α+P18+Lens+BAO","cl":95,"i":25,"ns":0.95430,"om":0.30677},
      {"set":"Lyman-α+P18+Lens+BAO","cl":95,"i":26,"ns":0.95320,"om":0.30942},
      {"set":"Lyman-α+P18+Lens+BAO","cl":95,"i":27,"ns":0.95238,"om":0.31261},
      {"set":"Lyman-α+P18+Lens+BAO","cl":95,"i":28,"ns":0.95183,"om":0.31579},

      {"set":"Lyman-α+P18+Lens+BAO","cl":68,"i":0,"ns":0.95498,"om":0.31208},
      {"set":"Lyman-α+P18+Lens+BAO","cl":68,"i":1,"ns":0.95484,"om":0.31526},
      {"set":"Lyman-α+P18+Lens+BAO","cl":68,"i":2,"ns":0.95539,"om":0.31738},
      {"set":"Lyman-α+P18+Lens+BAO","cl":68,"i":3,"ns":0.95648,"om":0.31898},
      {"set":"Lyman-α+P18+Lens+BAO","cl":68,"i":4,"ns":0.95812,"om":0.31924},
      {"set":"Lyman-α+P18+Lens+BAO","cl":68,"i":5,"ns":0.95977,"om":0.31844},
      {"set":"Lyman-α+P18+Lens+BAO","cl":68,"i":6,"ns":0.96141,"om":0.31685},
      {"set":"Lyman-α+P18+Lens+BAO","cl":68,"i":7,"ns":0.96278,"om":0.31473},
      {"set":"Lyman-α+P18+Lens+BAO","cl":68,"i":8,"ns":0.96387,"om":0.31208},
      {"set":"Lyman-α+P18+Lens+BAO","cl":68,"i":9,"ns":0.96469,"om":0.30889},
      {"set":"Lyman-α+P18+Lens+BAO","cl":68,"i":10,"ns":0.96510,"om":0.30571},
      {"set":"Lyman-α+P18+Lens+BAO","cl":68,"i":11,"ns":0.96469,"om":0.30305},
      {"set":"Lyman-α+P18+Lens+BAO","cl":68,"i":12,"ns":0.96360,"om":0.30146},
      {"set":"Lyman-α+P18+Lens+BAO","cl":68,"i":13,"ns":0.96195,"om":0.30119},
      {"set":"Lyman-α+P18+Lens+BAO","cl":68,"i":14,"ns":0.96031,"om":0.30199},
      {"set":"Lyman-α+P18+Lens+BAO","cl":68,"i":15,"ns":0.95867,"om":0.30358},
      {"set":"Lyman-α+P18+Lens+BAO","cl":68,"i":16,"ns":0.95703,"om":0.30571},
      {"set":"Lyman-α+P18+Lens+BAO","cl":68,"i":17,"ns":0.95566,"om":0.30889}
    ]
  },
  "hconcat": [
    {
      "width": 756,
      "height": 781,
      "data": {"name": "mnu"},
      "resolve": {"axis": {"x": "independent", "y": "independent"}},
      "layer": [
        {
          "transform": [{"filter": {"and": [{"field": "set", "equal": "Lyman-α+H₀ prior"}, {"field": "cl", "equal": 95}]}}],
          "mark": {"type": "line", "interpolate": "linear-closed", "fill": "#E0907A", "fillOpacity": 1, "strokeWidth": 3, "strokeJoin": "round", "clip": true},
          "encoding": {
            "x": {"field": "mnu", "type": "quantitative", "scale": {"domain": [0, 1.1118], "nice": false, "zero": false},
              "axis": {"orient": "bottom", "values": [0, 0.1, 0.2, 0.3, 0.4, 0.5, 0.6, 0.7, 0.8, 0.9, 1, 1.1], "format": "~g",
                "labelExpr": "(datum.value == 0 || datum.value == 0.5 || datum.value == 1) ? datum.label : ''",
                "tickSize": 4, "labelPadding": 23, "title": "∑ mᵥ", "titlePadding": 20}},
            "y": {"field": "om", "type": "quantitative", "scale": {"domain": [0.23774, 0.3629], "nice": false, "zero": false},
              "axis": {"orient": "left", "values": [0.24, 0.25, 0.26, 0.27, 0.28, 0.29, 0.3, 0.31, 0.32, 0.33, 0.34, 0.35, 0.36], "format": "~g",
                "labelExpr": "(datum.value == 0.25 || datum.value == 0.3 || datum.value == 0.35) ? datum.label : ''",
                "tickSize": {"condition": {"test": "datum.value == 0.25 || datum.value == 0.3 || datum.value == 0.35", "value": 9}, "value": 4},
                "labelPadding": 19, "title": "Ωₘ", "titlePadding": 34, "titleFontSize": 68}},
            "order": {"field": "i", "type": "quantitative"},
            "stroke": {"field": "set", "type": "nominal",
              "scale": {"domain": ["Lyman-α+H₀ prior", "P18+lens+BAO", "Lyman-α+P18", "Lyman-α+P18+Lens+BAO"], "range": ["#CC0A1E", "#2066AC", "#6AB440", "#F2AC1C"]},
              "legend": {"orient": "none", "legendX": 501, "legendY": -210, "title": null, "direction": "vertical",
                "fillColor": "white", "strokeColor": "black", "padding": 5, "rowPadding": -13,
                "symbolType": "M-4,0H4", "symbolSize": 506.25, "symbolStrokeWidth": 21, "symbolOpacity": 1, "symbolOffset": 44,
                "labelFontSize": 48.5, "labelOffset": 67, "labelLimit": 2000, "zindex": 3,
                "labelExpr": "datum.label + '\u00a0\u00a0'",
                "encode": {"legend": {"update": {"strokeWidth": {"value": 3.5}}}}}}
          }
        },
        {
          "transform": [{"filter": {"and": [{"field": "set", "equal": "Lyman-α+H₀ prior"}, {"field": "cl", "equal": 68}]}}],
          "mark": {"type": "line", "interpolate": "linear-closed", "fill": "#C8071E", "strokeWidth": 0, "clip": true},
          "encoding": {
            "x": {"field": "mnu", "type": "quantitative", "scale": {"domain": [0, 1.1118], "nice": false, "zero": false},
              "axis": {"orient": "bottom", "values": [0, 0.1, 0.2, 0.3, 0.4, 0.5, 0.6, 0.7, 0.8, 0.9, 1, 1.1], "domain": false, "labels": false, "title": null,
                "tickSize": {"condition": {"test": "datum.value == 0 || datum.value == 0.5 || datum.value == 1", "value": -9}, "value": -4}}},
            "y": {"field": "om", "type": "quantitative", "scale": {"domain": [0.23774, 0.3629], "nice": false, "zero": false},
              "axis": {"orient": "left", "values": [0.24, 0.25, 0.26, 0.27, 0.28, 0.29, 0.3, 0.31, 0.32, 0.33, 0.34, 0.35, 0.36], "domain": false, "labels": false, "title": null,
                "tickSize": {"condition": {"test": "datum.value == 0.25 || datum.value == 0.3 || datum.value == 0.35", "value": -7}, "value": -5}}},
            "order": {"field": "i", "type": "quantitative"}
          }
        },
        {
          "transform": [{"filter": {"and": [{"field": "set", "equal": "P18+lens+BAO"}, {"field": "cl", "equal": 95}]}}],
          "mark": {"type": "line", "interpolate": "linear-closed", "fill": "#8EB4DF", "fillOpacity": 0.85, "strokeWidth": 3, "strokeJoin": "round", "clip": true},
          "encoding": {
            "x": {"field": "mnu", "type": "quantitative", "scale": {"domain": [0, 1.1118], "nice": false, "zero": false},
              "axis": {"orient": "top", "values": [0, 0.1, 0.2, 0.3, 0.4, 0.5, 0.6, 0.7, 0.8, 0.9, 1, 1.1], "labels": false, "title": null, "tickSize": 4}},
            "y": {"field": "om", "type": "quantitative", "scale": {"domain": [0.23774, 0.3629], "nice": false, "zero": false},
              "axis": {"orient": "right", "values": [0.24, 0.25, 0.26, 0.27, 0.28, 0.29, 0.3, 0.31, 0.32, 0.33, 0.34, 0.35, 0.36], "labels": false, "title": null, "tickSize": 4}},
            "order": {"field": "i", "type": "quantitative"},
            "stroke": {"field": "set", "type": "nominal",
              "scale": {"domain": ["Lyman-α+H₀ prior", "P18+lens+BAO", "Lyman-α+P18", "Lyman-α+P18+Lens+BAO"], "range": ["#CC0A1E", "#2066AC", "#6AB440", "#F2AC1C"]}}
          }
        },
        {
          "transform": [{"filter": {"and": [{"field": "set", "equal": "Lyman-α+P18"}, {"field": "cl", "equal": 95}]}}],
          "mark": {"type": "line", "interpolate": "linear-closed", "fill": "#B1D199", "fillOpacity": 0.85, "strokeWidth": 3, "strokeJoin": "round", "clip": true},
          "encoding": {
            "x": {"field": "mnu", "type": "quantitative", "scale": {"domain": [0, 1.1118], "nice": false, "zero": false},
              "axis": {"orient": "top", "values": [0, 0.1, 0.2, 0.3, 0.4, 0.5, 0.6, 0.7, 0.8, 0.9, 1, 1.1], "domain": false, "labels": false, "title": null,
                "tickSize": {"condition": {"test": "datum.value == 0 || datum.value == 0.5 || datum.value == 1", "value": -9}, "value": -5}}},
            "y": {"field": "om", "type": "quantitative", "scale": {"domain": [0.23774, 0.3629], "nice": false, "zero": false},
              "axis": {"orient": "right", "values": [0.24, 0.25, 0.26, 0.27, 0.28, 0.29, 0.3, 0.31, 0.32, 0.33, 0.34, 0.35, 0.36], "domain": false, "labels": false, "title": null,
                "tickSize": {"condition": {"test": "datum.value == 0.25 || datum.value == 0.3 || datum.value == 0.35", "value": -5}, "value": -4}}},
            "order": {"field": "i", "type": "quantitative"},
            "stroke": {"field": "set", "type": "nominal",
              "scale": {"domain": ["Lyman-α+H₀ prior", "P18+lens+BAO", "Lyman-α+P18", "Lyman-α+P18+Lens+BAO"], "range": ["#CC0A1E", "#2066AC", "#6AB440", "#F2AC1C"]}}
          }
        },
        {
          "transform": [{"filter": {"and": [{"field": "set", "equal": "Lyman-α+P18"}, {"field": "cl", "equal": 68}]}}],
          "mark": {"type": "line", "interpolate": "linear-closed", "fill": "#6DB843", "strokeWidth": 0, "clip": true},
          "encoding": {
            "x": {"field": "mnu", "type": "quantitative", "scale": {"domain": [0, 1.1118], "nice": false, "zero": false}, "axis": null},
            "y": {"field": "om", "type": "quantitative", "scale": {"domain": [0.23774, 0.3629], "nice": false, "zero": false}, "axis": null},
            "order": {"field": "i", "type": "quantitative"}
          }
        },
        {
          "transform": [{"filter": {"and": [{"field": "set", "equal": "Lyman-α+P18+Lens+BAO"}, {"field": "cl", "equal": 95}]}}],
          "mark": {"type": "line", "interpolate": "linear-closed", "fill": "#EBCB82", "fillOpacity": 0.85, "strokeWidth": 3, "strokeJoin": "round", "clip": true},
          "encoding": {
            "x": {"field": "mnu", "type": "quantitative", "scale": {"domain": [0, 1.1118], "nice": false, "zero": false}, "axis": null},
            "y": {"field": "om", "type": "quantitative", "scale": {"domain": [0.23774, 0.3629], "nice": false, "zero": false}, "axis": null},
            "order": {"field": "i", "type": "quantitative"},
            "stroke": {"field": "set", "type": "nominal",
              "scale": {"domain": ["Lyman-α+H₀ prior", "P18+lens+BAO", "Lyman-α+P18", "Lyman-α+P18+Lens+BAO"], "range": ["#CC0A1E", "#2066AC", "#6AB440", "#F2AC1C"]}}
          }
        },
        {
          "transform": [{"filter": {"and": [{"field": "set", "equal": "Lyman-α+P18+Lens+BAO"}, {"field": "cl", "equal": 68}]}}],
          "mark": {"type": "line", "interpolate": "linear-closed", "fill": "#DAA300", "strokeWidth": 0, "clip": true},
          "encoding": {
            "x": {"field": "mnu", "type": "quantitative", "scale": {"domain": [0, 1.1118], "nice": false, "zero": false}, "axis": null},
            "y": {"field": "om", "type": "quantitative", "scale": {"domain": [0.23774, 0.3629], "nice": false, "zero": false}, "axis": null},
            "order": {"field": "i", "type": "quantitative"}
          }
        }
      ]
    },
    {
      "width": 747,
      "height": 786,
      "data": {"name": "ns"},
      "resolve": {"axis": {"x": "independent", "y": "independent"}},
      "layer": [
        {
          "transform": [{"filter": {"and": [{"field": "set", "equal": "Lyman-α+H₀ prior"}, {"field": "cl", "equal": 95}]}}],
          "mark": {"type": "line", "interpolate": "cardinal-closed", "fill": "#E0907A", "fillOpacity": 1, "strokeWidth": 3, "strokeJoin": "round", "clip": true},
          "encoding": {
            "x": {"field": "ns", "type": "quantitative", "scale": {"domain": [0.91864, 0.97995], "nice": false, "zero": false},
              "axis": {"orient": "bottom", "values": [0.91875, 0.925, 0.93125, 0.9375, 0.94375, 0.95, 0.95625, 0.9625, 0.96875, 0.975], "format": "~g",
                "labelExpr": "(datum.value == 0.925 || datum.value == 0.95 || datum.value == 0.975) ? datum.label : ''",
                "tickSize": 5, "labelPadding": 25, "title": "nₛ", "titlePadding": 16, "titleFontStyle": "italic"}},
            "y": {"field": "om", "type": "quantitative", "scale": {"domain": [0.2375, 0.36266], "nice": false, "zero": false},
              "axis": {"orient": "left", "values": [0.24, 0.25, 0.26, 0.27, 0.28, 0.29, 0.3, 0.31, 0.32, 0.33, 0.34, 0.35, 0.36], "format": "~g",
                "labelExpr": "(datum.value == 0.25 || datum.value == 0.3) ? datum.label : ''",
                "tickSize": {"condition": {"test": "datum.value == 0.25 || datum.value == 0.3 || datum.value == 0.35", "value": 9}, "value": 5},
                "labelPadding": 19, "title": "Ωₘ", "titlePadding": 34, "titleFontSize": 68}},
            "order": {"field": "i", "type": "quantitative"},
            "stroke": {"field": "set", "type": "nominal",
              "scale": {"domain": ["Lyman-α+H₀ prior", "P18+lens+BAO", "Lyman-α+P18", "Lyman-α+P18+Lens+BAO"], "range": ["#CC0A1E", "#2066AC", "#6AB440", "#F2AC1C"]}}
          }
        },
        {
          "transform": [{"filter": {"and": [{"field": "set", "equal": "Lyman-α+H₀ prior"}, {"field": "cl", "equal": 68}]}}],
          "mark": {"type": "line", "interpolate": "cardinal-closed", "fill": "#C8071E", "strokeWidth": 0, "clip": true},
          "encoding": {
            "x": {"field": "ns", "type": "quantitative", "scale": {"domain": [0.91864, 0.97995], "nice": false, "zero": false},
              "axis": {"orient": "bottom", "values": [0.91875, 0.925, 0.93125, 0.9375, 0.94375, 0.95, 0.95625, 0.9625, 0.96875, 0.975], "domain": false, "labels": false, "title": null,
                "tickSize": {"condition": {"test": "datum.value == 0.925 || datum.value == 0.95 || datum.value == 0.975", "value": -8}, "value": -3}}},
            "y": {"field": "om", "type": "quantitative", "scale": {"domain": [0.2375, 0.36266], "nice": false, "zero": false},
              "axis": {"orient": "left", "values": [0.24, 0.25, 0.26, 0.27, 0.28, 0.29, 0.3, 0.31, 0.32, 0.33, 0.34, 0.35, 0.36], "domain": false, "labels": false, "title": null,
                "tickSize": {"condition": {"test": "datum.value == 0.25 || datum.value == 0.3 || datum.value == 0.35", "value": -10}, "value": -5}}},
            "order": {"field": "i", "type": "quantitative"}
          }
        },
        {
          "transform": [{"filter": {"and": [{"field": "set", "equal": "P18+lens+BAO"}, {"field": "cl", "equal": 95}]}}],
          "mark": {"type": "line", "interpolate": "cardinal-closed", "fill": "#8EB4DF", "fillOpacity": 0.85, "strokeWidth": 3, "strokeJoin": "round", "clip": true},
          "encoding": {
            "x": {"field": "ns", "type": "quantitative", "scale": {"domain": [0.91864, 0.97995], "nice": false, "zero": false},
              "axis": {"orient": "top", "values": [0.91875, 0.925, 0.93125, 0.9375, 0.94375, 0.95, 0.95625, 0.9625, 0.96875, 0.975], "labels": false, "title": null,
                "tickSize": {"condition": {"test": "datum.value == 0.925 || datum.value == 0.95 || datum.value == 0.975", "value": 16}, "value": 4}}},
            "y": {"field": "om", "type": "quantitative", "scale": {"domain": [0.2375, 0.36266], "nice": false, "zero": false}, "axis": null},
            "order": {"field": "i", "type": "quantitative"},
            "stroke": {"field": "set", "type": "nominal",
              "scale": {"domain": ["Lyman-α+H₀ prior", "P18+lens+BAO", "Lyman-α+P18", "Lyman-α+P18+Lens+BAO"], "range": ["#CC0A1E", "#2066AC", "#6AB440", "#F2AC1C"]}}
          }
        },
        {
          "transform": [{"filter": {"and": [{"field": "set", "equal": "P18+lens+BAO"}, {"field": "cl", "equal": 68}]}}],
          "mark": {"type": "line", "interpolate": "cardinal-closed", "fill": "#2369A8", "strokeWidth": 0, "clip": true},
          "encoding": {
            "x": {"field": "ns", "type": "quantitative", "scale": {"domain": [0.91864, 0.97995], "nice": false, "zero": false},
              "axis": {"orient": "top", "values": [0.91875, 0.925, 0.93125, 0.9375, 0.94375, 0.95, 0.95625, 0.9625, 0.96875, 0.975], "domain": false, "labels": false, "title": null,
                "tickSize": {"condition": {"test": "datum.value == 0.925 || datum.value == 0.95 || datum.value == 0.975", "value": -9}, "value": -6}}},
            "y": {"field": "om", "type": "quantitative", "scale": {"domain": [0.2375, 0.36266], "nice": false, "zero": false}, "axis": null},
            "order": {"field": "i", "type": "quantitative"}
          }
        },
        {
          "transform": [{"filter": {"and": [{"field": "set", "equal": "Lyman-α+P18"}, {"field": "cl", "equal": 95}]}}],
          "mark": {"type": "line", "interpolate": "cardinal-closed", "fill": "#B1D199", "fillOpacity": 0.85, "strokeWidth": 3, "strokeJoin": "round", "clip": true},
          "encoding": {
            "x": {"field": "ns", "type": "quantitative", "scale": {"domain": [0.91864, 0.97995], "nice": false, "zero": false}, "axis": null},
            "y": {"field": "om", "type": "quantitative", "scale": {"domain": [0.2375, 0.36266], "nice": false, "zero": false}, "axis": null},
            "order": {"field": "i", "type": "quantitative"},
            "stroke": {"field": "set", "type": "nominal",
              "scale": {"domain": ["Lyman-α+H₀ prior", "P18+lens+BAO", "Lyman-α+P18", "Lyman-α+P18+Lens+BAO"], "range": ["#CC0A1E", "#2066AC", "#6AB440", "#F2AC1C"]}}
          }
        },
        {
          "transform": [{"filter": {"and": [{"field": "set", "equal": "Lyman-α+P18"}, {"field": "cl", "equal": 68}]}}],
          "mark": {"type": "line", "interpolate": "cardinal-closed", "fill": "#6DB843", "strokeWidth": 0, "clip": true},
          "encoding": {
            "x": {"field": "ns", "type": "quantitative", "scale": {"domain": [0.91864, 0.97995], "nice": false, "zero": false}, "axis": null},
            "y": {"field": "om", "type": "quantitative", "scale": {"domain": [0.2375, 0.36266], "nice": false, "zero": false}, "axis": null},
            "order": {"field": "i", "type": "quantitative"}
          }
        },
        {
          "transform": [{"filter": {"and": [{"field": "set", "equal": "Lyman-α+P18+Lens+BAO"}, {"field": "cl", "equal": 95}]}}],
          "mark": {"type": "line", "interpolate": "cardinal-closed", "fill": "#EBCB82", "fillOpacity": 0.85, "strokeWidth": 3, "strokeJoin": "round", "clip": true},
          "encoding": {
            "x": {"field": "ns", "type": "quantitative", "scale": {"domain": [0.91864, 0.97995], "nice": false, "zero": false}, "axis": null},
            "y": {"field": "om", "type": "quantitative", "scale": {"domain": [0.2375, 0.36266], "nice": false, "zero": false}, "axis": null},
            "order": {"field": "i", "type": "quantitative"},
            "stroke": {"field": "set", "type": "nominal",
              "scale": {"domain": ["Lyman-α+H₀ prior", "P18+lens+BAO", "Lyman-α+P18", "Lyman-α+P18+Lens+BAO"], "range": ["#CC0A1E", "#2066AC", "#6AB440", "#F2AC1C"]}}
          }
        },
        {
          "transform": [{"filter": {"and": [{"field": "set", "equal": "Lyman-α+P18+Lens+BAO"}, {"field": "cl", "equal": 68}]}}],
          "mark": {"type": "line", "interpolate": "cardinal-closed", "fill": "#DAA300", "strokeWidth": 0, "clip": true},
          "encoding": {
            "x": {"field": "ns", "type": "quantitative", "scale": {"domain": [0.91864, 0.97995], "nice": false, "zero": false}, "axis": null},
            "y": {"field": "om", "type": "quantitative", "scale": {"domain": [0.2375, 0.36266], "nice": false, "zero": false}, "axis": null},
            "order": {"field": "i", "type": "quantitative"}
          }
        }
      ]
    }
  ]
}
